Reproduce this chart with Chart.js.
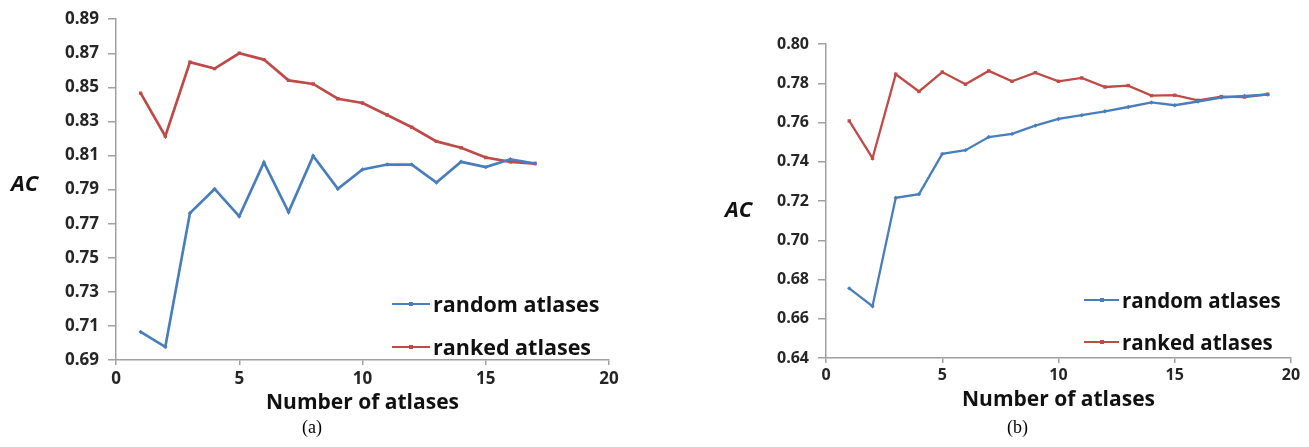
<!DOCTYPE html>
<html>
<head>
<meta charset="utf-8">
<script src="https://cdn.jsdelivr.net/npm/chart.js@4.4.0/dist/chart.umd.min.js"></script>
<style>
  body { margin: 0; background: #fff; width: 1309px; height: 447px; position: relative; overflow: hidden; }
  canvas { position: absolute; top: 0; }
  .ac { position: absolute; font: italic bold 22px "Open Sans", sans-serif; color: #111; line-height: 1; }
  .cap { position: absolute; font: 18px "Liberation Serif", serif; color: #000; line-height: 1; }
  .legend { position: absolute; font-family: "Open Sans", sans-serif; font-weight: bold; color: #111; }
  .legend .row { display: flex; align-items: center; white-space: nowrap; }
  .legend .sw { position: relative; height: 2px; margin-right: 3px; }
  .legend .sw i { position: absolute; left: 50%; top: 50%; width: 4px; height: 4px; margin: -2px 0 0 -2px; }
</style>
</head>
<body>
<canvas id="chartA" width="650" height="447" style="left:0"></canvas>
<canvas id="chartB" width="659" height="447" style="left:650px"></canvas>

<div class="ac" style="left:11px; top:171px">AC</div>
<div class="ac" style="left:725px; top:197px">AC</div>
<div class="cap" style="left:302px; top:418px">(a)</div>
<div class="cap" style="left:1007px; top:418px">(b)</div>
<div class="legend" id="legA" style="left:392px; top:282px; font-size:21.5px"></div>
<div class="legend" id="legB" style="left:1084px; top:279px; font-size:20.5px"></div>

<script>
// Valores (a)
const atlasesA = [1, 2, 3, 4, 5, 6, 7, 8, 9, 10, 11, 12, 13, 14, 15, 16, 17];
const randomA = [0.7065, 0.6977, 0.7762, 0.7904, 0.7743, 0.8059, 0.7768, 0.8098, 0.7904, 0.8018, 0.8047, 0.8047, 0.7941, 0.8063, 0.8032, 0.8078, 0.8053];
const rankedA = [0.8466, 0.8214, 0.8648, 0.8610, 0.8700, 0.8663, 0.8541, 0.8520, 0.8433, 0.8408, 0.8338, 0.8266, 0.8183, 0.8146, 0.8088, 0.8063, 0.8053];
const yTicksA = [0.69, 0.71, 0.73, 0.75, 0.77, 0.79, 0.81, 0.83, 0.85, 0.87, 0.89];

// Valores (b)
const atlasesB = [1, 2, 3, 4, 5, 6, 7, 8, 9, 10, 11, 12, 13, 14, 15, 16, 17, 18, 19];
const randomB = [0.6755, 0.6664, 0.7216, 0.7235, 0.7440, 0.7459, 0.7526, 0.7542, 0.7584, 0.7618, 0.7637, 0.7657, 0.7679, 0.7702, 0.7688, 0.7707, 0.7727, 0.7735, 0.7742];
const rankedB = [0.7608, 0.7418, 0.7846, 0.7758, 0.7857, 0.7795, 0.7863, 0.7810, 0.7854, 0.7810, 0.7827, 0.7781, 0.7788, 0.7737, 0.7739, 0.7713, 0.7732, 0.7730, 0.7744];
const yTicksB = [0.64, 0.66, 0.68, 0.70, 0.72, 0.74, 0.76, 0.78, 0.80];

const xTicks = [0, 5, 10, 15, 20];
const seriesNames = ['random atlases', 'ranked atlases'];

const BLUE = '#4a7ebb';
const RED = '#be4b48';
const AXIS = '#a0a0a0';
const TXT = '#262626';
const FONT = 'Open Sans';

function buildChart(id, xs, rand, rank, yTicks, g) {
    return new Chart(document.getElementById(id), {
        type: 'line',
        data: {
            datasets: [{
                label: seriesNames[0],
                data: xs.map((x, i) => ({ x: x, y: rand[i] })),
                borderColor: BLUE,
                backgroundColor: BLUE,
                borderWidth: g.lw,
                pointStyle: 'rectRot',
                pointRadius: 2.2,
                pointBorderWidth: 0,
                tension: 0
            }, {
                label: seriesNames[1],
                data: xs.map((x, i) => ({ x: x, y: rank[i] })),
                borderColor: RED,
                backgroundColor: RED,
                borderWidth: g.lw,
                pointStyle: 'rect',
                pointRadius: 2.4,
                pointBorderWidth: 0,
                tension: 0
            }]
        },
        options: {
            responsive: false,
            animation: false,
            layout: { padding: { top: g.top, right: g.right, left: 0, bottom: 0 } },
            plugins: { legend: { display: false }, tooltip: { enabled: false } },
            scales: {
                x: {
                    type: 'linear',
                    min: 0,
                    max: 20,
                    afterBuildTicks: s => { s.ticks = xTicks.map(v => ({ value: v })); },
                    afterFit: s => { s.height = g.xh; },
                    grid: { drawOnChartArea: false, tickLength: 5, color: AXIS, lineWidth: 1.5 },
                    border: { color: AXIS, width: 1.5 },
                    ticks: { padding: g.xpad, color: TXT, font: { family: FONT, weight: 'bold', size: g.fs } },
                    title: {
                        display: true,
                        text: 'Number of atlases',
                        color: '#111',
                        font: { family: FONT, weight: 'bold', size: 21 },
                        padding: { top: 0, bottom: g.tpad }
                    }
                },
                y: {
                    type: 'linear',
                    min: yTicks[0],
                    max: yTicks[yTicks.length - 1],
                    afterBuildTicks: s => { s.ticks = yTicks.map(v => ({ value: v })); },
                    afterFit: s => { s.width = g.yw; },
                    grid: { drawOnChartArea: false, tickLength: 8, color: AXIS, lineWidth: 1.5 },
                    border: { color: AXIS, width: 1.5 },
                    ticks: {
                        padding: 9,
                        color: TXT,
                        font: { family: FONT, weight: 'bold', size: g.fs },
                        callback: v => Number(v).toFixed(2)
                    }
                }
            }
        }
    });
}

function buildLegend(el, chart, swW, rowH) {
    chart.data.datasets.forEach(ds => {
        const row = document.createElement('div');
        row.className = 'row';
        row.style.height = rowH + 'px';
        const sw = document.createElement('span');
        sw.className = 'sw';
        sw.style.width = swW + 'px';
        sw.style.background = ds.borderColor;
        const dot = document.createElement('i');
        dot.style.background = ds.borderColor;
        sw.appendChild(dot);
        const txt = document.createElement('span');
        txt.textContent = ds.label;
        row.appendChild(sw);
        row.appendChild(txt);
        el.appendChild(row);
    });
}

const chartA = buildChart('chartA', atlasesA, randomA, rankedA, yTicksA,
    { lw: 2.7, top: 16, right: 41, xh: 87, yw: 116, xpad: 4, tpad: 31, fs: 17 });
const chartB = buildChart('chartB', atlasesB, randomB, rankedB, yTicksB,
    { lw: 2.3, top: 44, right: 18, xh: 89, yw: 176, xpad: 3, tpad: 34, fs: 16 });

buildLegend(document.getElementById('legA'), chartA, 38, 43);
buildLegend(document.getElementById('legB'), chartB, 35, 42);
</script>
</body>
</html>
